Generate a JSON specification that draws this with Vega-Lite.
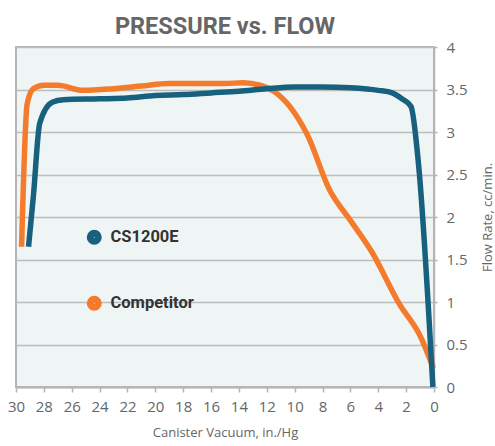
{
  "$schema": "https://vega.github.io/schema/vega-lite/v6.json",
  "width": 418,
  "height": 340,
  "autosize": {"type": "none"},
  "padding": {"left": 16, "top": 47, "right": 61, "bottom": 59},
  "background": "#ffffff",
  "title": {
    "text": "PRESSURE vs. FLOW",
    "font": "Roboto",
    "fontSize": 23.5,
    "fontWeight": "bold",
    "color": "#666666",
    "anchor": "middle",
    "baseline": "alphabetic",
    "offset": 6,
    "dy": 23
  },
  "config": {
    "view": {"stroke": "#b5b5b5", "strokeWidth": 2, "fill": "#eff5f5"},
    "axis": {"labelFont": "Open Sans", "titleFont": "Open Sans", "labelColor": "#666666", "titleColor": "#666666", "titleFontWeight": "normal"}
  },
  "data": {
    "values": [
      {"series": "CS1200E", "vacuum": 29.1, "flow": 1.65},
      {"series": "CS1200E", "vacuum": 28.75, "flow": 2.25},
      {"series": "CS1200E", "vacuum": 28.3, "flow": 3.1},
      {"series": "CS1200E", "vacuum": 27.4, "flow": 3.35},
      {"series": "CS1200E", "vacuum": 26.6, "flow": 3.38},
      {"series": "CS1200E", "vacuum": 24, "flow": 3.39},
      {"series": "CS1200E", "vacuum": 22, "flow": 3.40},
      {"series": "CS1200E", "vacuum": 20, "flow": 3.43},
      {"series": "CS1200E", "vacuum": 18, "flow": 3.44},
      {"series": "CS1200E", "vacuum": 16, "flow": 3.46},
      {"series": "CS1200E", "vacuum": 14, "flow": 3.48},
      {"series": "CS1200E", "vacuum": 12, "flow": 3.51},
      {"series": "CS1200E", "vacuum": 10, "flow": 3.53},
      {"series": "CS1200E", "vacuum": 8, "flow": 3.53},
      {"series": "CS1200E", "vacuum": 6, "flow": 3.52},
      {"series": "CS1200E", "vacuum": 4, "flow": 3.49},
      {"series": "CS1200E", "vacuum": 3, "flow": 3.46},
      {"series": "CS1200E", "vacuum": 2.3, "flow": 3.39},
      {"series": "CS1200E", "vacuum": 1.65, "flow": 3.30},
      {"series": "CS1200E", "vacuum": 1.1, "flow": 2.6},
      {"series": "CS1200E", "vacuum": 0.08, "flow": 0.0},
      {"series": "Competitor", "vacuum": 29.6, "flow": 1.65},
      {"series": "Competitor", "vacuum": 29.2, "flow": 3.33},
      {"series": "Competitor", "vacuum": 28.75, "flow": 3.51},
      {"series": "Competitor", "vacuum": 28.0, "flow": 3.55},
      {"series": "Competitor", "vacuum": 27, "flow": 3.55},
      {"series": "Competitor", "vacuum": 25.2, "flow": 3.49},
      {"series": "Competitor", "vacuum": 23, "flow": 3.51},
      {"series": "Competitor", "vacuum": 21, "flow": 3.54},
      {"series": "Competitor", "vacuum": 19, "flow": 3.57},
      {"series": "Competitor", "vacuum": 17, "flow": 3.57},
      {"series": "Competitor", "vacuum": 15, "flow": 3.57},
      {"series": "Competitor", "vacuum": 13.7, "flow": 3.58},
      {"series": "Competitor", "vacuum": 12.5, "flow": 3.55},
      {"series": "Competitor", "vacuum": 11.5, "flow": 3.48},
      {"series": "Competitor", "vacuum": 10.3, "flow": 3.29},
      {"series": "Competitor", "vacuum": 9.1, "flow": 2.97},
      {"series": "Competitor", "vacuum": 7.5, "flow": 2.32},
      {"series": "Competitor", "vacuum": 6.0, "flow": 1.96},
      {"series": "Competitor", "vacuum": 4.5, "flow": 1.60},
      {"series": "Competitor", "vacuum": 2.5, "flow": 0.98},
      {"series": "Competitor", "vacuum": 0.9, "flow": 0.57},
      {"series": "Competitor", "vacuum": 0.05, "flow": 0.22}
    ]
  },
  "encoding": {
    "x": {
      "field": "vacuum",
      "type": "quantitative",
      "scale": {"domain": [0, 30], "reverse": true, "nice": false},
      "axis": {
        "title": "Canister Vacuum, in./Hg",
        "values": [0, 2, 4, 6, 8, 10, 12, 14, 16, 18, 20, 22, 24, 26, 28, 30],
        "grid": false,
        "labelFontSize": 15,
        "labelPadding": 7,
        "titleFontSize": 13,
        "titlePadding": 12,
        "tickSize": 5,
        "tickColor": "#b5b5b5",
        "tickWidth": 1.5,
        "domainColor": "#b5b5b5",
        "domainWidth": 2,
        "labelFlush": false
      }
    },
    "y": {
      "field": "flow",
      "type": "quantitative",
      "scale": {"domain": [0, 4], "nice": false},
      "axis": {
        "orient": "right",
        "title": "Flow Rate, cc/min.",
        "values": [0, 0.5, 1, 1.5, 2, 2.5, 3, 3.5, 4],
        "format": "~g",
        "grid": true,
        "gridColor": "#bdbdbd",
        "gridWidth": 1.5,
        "labelFontSize": 15,
        "labelPadding": 9,
        "tickSize": 3,
        "tickColor": "#b5b5b5",
        "tickWidth": 1.5,
        "domainColor": "#b5b5b5",
        "domainWidth": 1.5,
        "titleFontSize": 13,
        "titleAngle": 270,
        "titleX": 53,
        "titleY": 170,
        "titleAlign": "center",
        "titleBaseline": "middle"
      }
    },
    "color": {
      "field": "series",
      "type": "nominal",
      "scale": {"domain": ["CS1200E", "Competitor"], "range": ["#17607e", "#f47b2b"]},
      "legend": {
        "title": null,
        "orient": "none",
        "legendX": 70,
        "legendY": 182,
        "symbolType": "circle",
        "symbolSize": 49,
        "symbolStrokeWidth": 8,
        "symbolOpacity": 1,
        "labelFont": "Roboto",
        "labelFontSize": 16.5,
        "labelFontWeight": "bold",
        "labelColor": "#333333",
        "labelOffset": 8,
        "rowPadding": 26,
        "padding": 0
      }
    }
  },
  "layer": [
    {
      "transform": [{"filter": "datum.series === 'Competitor'"}],
      "mark": {"type": "line", "strokeWidth": 5.5, "interpolate": "monotone", "strokeJoin": "round"}
    },
    {
      "transform": [{"filter": "datum.series === 'CS1200E'"}],
      "mark": {"type": "line", "strokeWidth": 5.5, "interpolate": "monotone", "strokeJoin": "round"}
    }
  ]
}
